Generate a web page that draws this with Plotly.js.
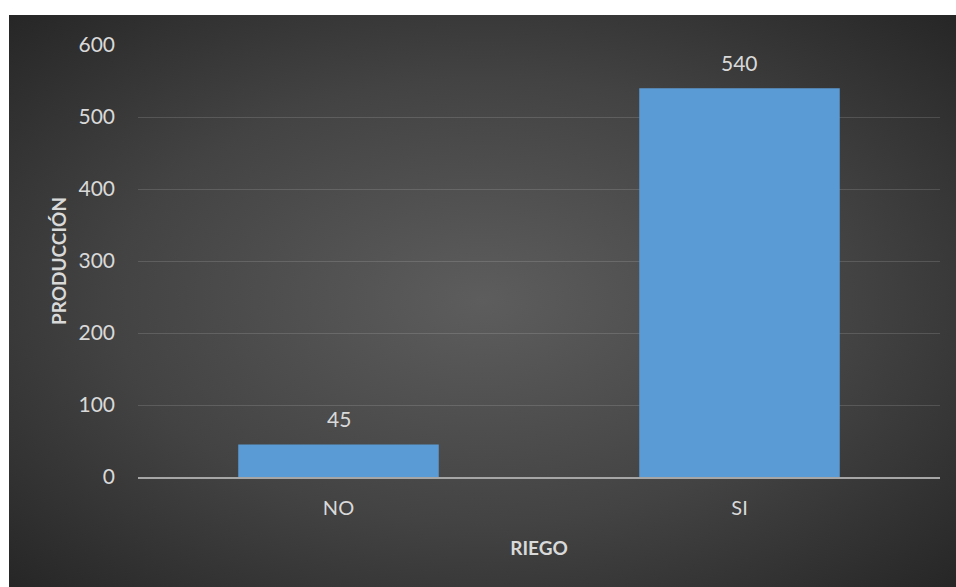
<!DOCTYPE html>
<html>
<head>
<meta charset="utf-8">
<script src="https://cdn.plot.ly/plotly-3.0.1.min.js"></script>
<style>
  html, body { margin: 0; padding: 0; background: #ffffff; }
  #wrap { position: relative; width: 956px; height: 587px; overflow: hidden; }
  #bg {
    position: absolute; left: 9px; top: 15px; right: 0; bottom: 0;
    background: radial-gradient(ellipse farthest-corner at 50% 50%, #5d5d5d 0%, #434343 55%, #262626 100%);
  }
  #chart { position: absolute; left: 0; top: 0; width: 956px; height: 587px; }
</style>
</head>
<body>
<div id="wrap">
  <div id="bg"></div>
  <div id="chart"></div>
</div>
<script>
// Irrigation vs. production
const categories = ['NO', 'SI'];
const produccion = [45, 540];
const yTicks = [0, 100, 200, 300, 400, 500, 600];

const textColor = '#d9d9d9';
const font = 'Lato, "Open Sans", sans-serif';

const trace = {
  type: 'bar',
  x: categories,
  y: produccion,
  marker: { color: '#5b9bd5', line: { width: 0 } },
  hoverinfo: 'x+y'
};

// value labels sitting above each bar
const labels = categories.map((c, i) => ({
  x: c, y: produccion[i], xref: 'x', yref: 'y',
  text: String(produccion[i]), showarrow: false,
  yshift: 26, font: { family: font, size: 21, color: textColor }
}));

const layout = {
  width: 956, height: 587,
  margin: { l: 138, r: 16, t: 45, b: 110 },
  paper_bgcolor: 'rgba(0,0,0,0)',
  plot_bgcolor: 'rgba(0,0,0,0)',
  bargap: 0.5,
  showlegend: false,
  font: { family: font, color: textColor },
  xaxis: {
    type: 'category',
    showgrid: false,
    showline: true, linecolor: '#a6a6a6', linewidth: 2,
    ticks: '', ticklabelstandoff: 12,
    tickfont: { family: font, size: 20, color: textColor },
    title: { text: '<b>RIEGO</b>', standoff: 24, font: { family: font, size: 19, color: textColor } },
    fixedrange: true
  },
  yaxis: {
    range: [0, 600],
    tickvals: yTicks,
    ticktext: yTicks.map(String),
    showgrid: true, gridcolor: 'rgba(217,217,217,0.17)', gridwidth: 1,
    zeroline: false, showline: false,
    ticks: '', ticklabelstandoff: 22,
    tickfont: { family: font, size: 21, color: textColor },
    title: { text: '<b>PRODUCCIÓN</b>', standoff: 6, font: { family: font, size: 19, color: textColor } },
    fixedrange: true
  },
  annotations: labels
};

Plotly.newPlot('chart', [trace], layout, { displayModeBar: false, staticPlot: true });
</script>
</body>
</html>
